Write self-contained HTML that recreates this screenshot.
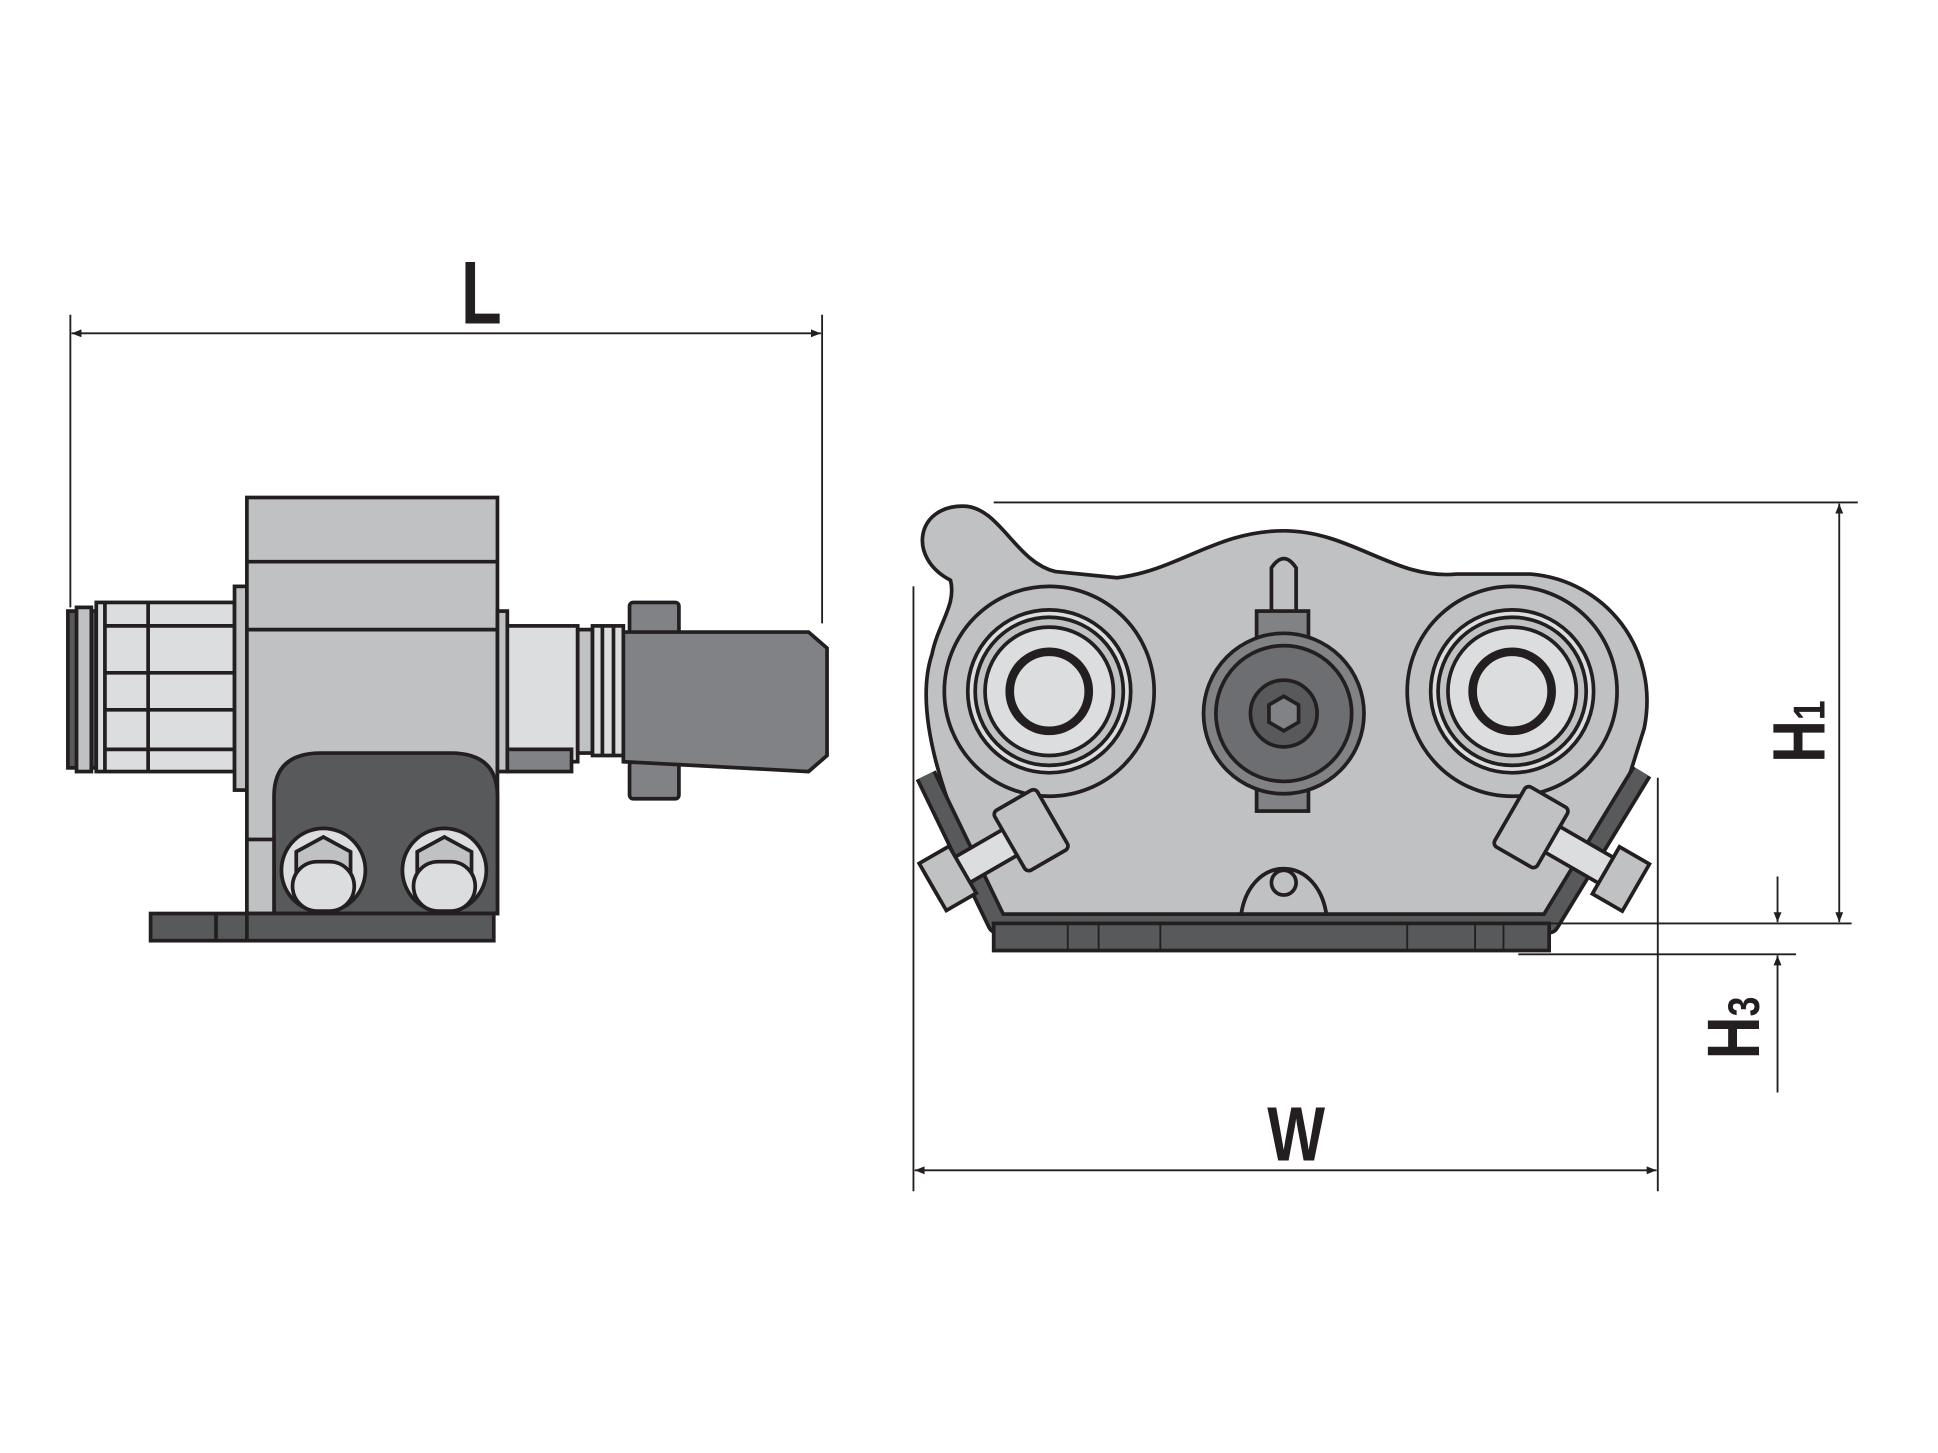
<!DOCTYPE html>
<html><head><meta charset="utf-8"><style>
html,body{margin:0;padding:0;background:#fff;}
svg{display:block}
text{font-family:"Liberation Sans",sans-serif;font-weight:bold;fill:#231f20}
</style></head><body>
<svg width="1938" height="1453" viewBox="0 0 1570 1177" preserveAspectRatio="none" xmlns="http://www.w3.org/2000/svg">
<defs>
<marker id="a" viewBox="0 0 10 10" refX="10" refY="5" markerWidth="14" markerHeight="8" orient="auto-start-reverse" markerUnits="userSpaceOnUse"><path d="M0,1 L10,5 L0,9 z" fill="#231f20"/></marker>
</defs>
<g stroke="#231f20" fill="none" stroke-width="1.5">
<line x1="57" y1="255" x2="57" y2="492"/>
<line x1="666" y1="255" x2="666" y2="505"/>
<line x1="58" y1="270" x2="665" y2="270" marker-start="url(#a)" marker-end="url(#a)"/>
</g>
<text x="390" y="262" font-size="72" text-anchor="middle" transform="scale(0.75,1) translate(130,0)">L</text>

<g stroke="#231f20" stroke-width="3">
<rect x="55" y="495" width="23" height="127" fill="#58595b"/>
<rect x="62" y="492" width="12" height="133" fill="#c0c1c3"/>
<rect x="78" y="488" width="112" height="137" fill="#dcddde"/>
<line x1="85" y1="488" x2="85" y2="625"/><line x1="120" y1="488" x2="120" y2="625"/>
<line x1="85" y1="507" x2="190" y2="507"/><line x1="85" y1="545" x2="190" y2="545"/>
<line x1="85" y1="575" x2="190" y2="575"/><line x1="85" y1="607" x2="190" y2="607"/>
<rect x="190" y="475" width="10" height="165" fill="#c0c1c3"/>
<rect x="200" y="403" width="203" height="337" fill="#c0c1c3"/>
<line x1="200" y1="455" x2="403" y2="455"/>
<line x1="200" y1="510" x2="403" y2="510"/>
<rect x="403" y="495" width="8" height="130" fill="#c0c1c3"/>
<rect x="411" y="507" width="57" height="110" fill="#dcddde"/>
<rect x="411" y="607" width="52" height="18" fill="#808285"/>
<rect x="468" y="510" width="12" height="100" fill="#c0c1c3"/>
<rect x="480" y="507" width="25" height="105" fill="#dcddde"/>
<line x1="488" y1="507" x2="488" y2="612"/><line x1="497" y1="507" x2="497" y2="612"/>
<rect x="510" y="488" width="40" height="26" rx="3" fill="#808285"/>
<rect x="510" y="617" width="40" height="30" rx="3" fill="#808285"/>
<path d="M505,512 L655,512 L670,525 L670,612 L655,625 L505,617 Z" fill="#808285"/>
<path d="M222,740 L222,645 Q222,610 260,610 L365,610 Q403,610 403,645 L403,740 Z" fill="#58595b"/>
<rect x="200" y="680" width="22" height="60" fill="#c0c1c3"/>
<rect x="122" y="740" width="278" height="22" fill="#58595b"/>
<line x1="175" y1="740" x2="175" y2="762"/><line x1="200" y1="740" x2="200" y2="762"/>
<circle cx="262" cy="705" r="34" fill="#dcddde"/>
<polygon points="240,690 262,678 284,690 284,715 262,728 240,715" fill="#c0c1c3"/>
<rect x="237" y="698" width="50" height="40" rx="20" fill="#dcddde"/>
<circle cx="360" cy="705" r="34" fill="#dcddde"/>
<polygon points="338,690 360,678 382,690 382,715 360,728 338,715" fill="#c0c1c3"/>
<rect x="335" y="698" width="50" height="40" rx="20" fill="#dcddde"/>
</g>

<g stroke="#231f20" stroke-width="3">
<path d="M770,470 C735,452 742,410 780,410 C810,410 822,455 855,463 L905,468 C955,462 985,430 1040,430 C1095,430 1130,470 1180,465 L1240,465 C1300,470 1345,525 1332,590 L1310,660 L1260,745 L1075,745 C1070,690 1010,690 1005,745 L800,745 L765,640 C752,600 745,560 755,530 C760,505 775,490 770,470 Z" fill="#c0c1c3"/>
<path d="M1005,745 C1010,690 1070,690 1075,745" fill="#c0c1c3"/>
<circle cx="1040" cy="715" r="10" fill="#c0c1c3"/>
<g fill="#c0c1c3">
<circle cx="850" cy="560" r="85"/><circle cx="850" cy="560" r="66" fill="#dcddde"/><circle cx="850" cy="560" r="60"/><circle cx="850" cy="560" r="52" fill="#dcddde"/><circle cx="850" cy="560" r="32" fill="#dcddde" stroke-width="7"/>
<circle cx="1225" cy="560" r="85"/><circle cx="1225" cy="560" r="66" fill="#dcddde"/><circle cx="1225" cy="560" r="60"/><circle cx="1225" cy="560" r="52" fill="#dcddde"/><circle cx="1225" cy="560" r="32" fill="#dcddde" stroke-width="7"/>
</g>
<path d="M1030,500 L1030,460 Q1040,445 1050,460 L1050,500 Z" fill="#c0c1c3"/>
<rect x="1018" y="495" width="42" height="25" fill="#808285"/>
<rect x="1018" y="630" width="42" height="27" fill="#808285"/>
<circle cx="1040" cy="578" r="65" fill="#808285"/>
<circle cx="1040" cy="578" r="55" fill="#6d6e71"/>
<circle cx="1040" cy="578" r="27" fill="#58595b"/>
<polygon points="1028,571 1040,564 1052,571 1052,585 1040,592 1028,585" fill="#808285"/>
<path d="M750,628 L808,748 L1255,748 L1330,625" fill="none" stroke="#231f20" stroke-width="18" stroke-linejoin="round"/>
<path d="M750,628 L808,748 L1255,748 L1330,625" fill="none" stroke="#58595b" stroke-width="12" stroke-linejoin="round"/>
<rect x="805" y="748" width="450" height="22" fill="#58595b"/>
<g stroke-width="1.5"><line x1="865" y1="748" x2="865" y2="770"/><line x1="890" y1="748" x2="890" y2="770"/><line x1="940" y1="748" x2="940" y2="770"/><line x1="1140" y1="748" x2="1140" y2="770"/><line x1="1195" y1="748" x2="1195" y2="770"/><line x1="1218" y1="748" x2="1218" y2="770"/></g>
<g fill="#dcddde">
<g transform="rotate(-30 805 690)"><rect x="748" y="678" width="100" height="24"/><rect x="820" y="662" width="40" height="56" rx="4" fill="#c0c1c3"/><rect x="748" y="668" width="28" height="44" fill="#c0c1c3"/></g>
<g transform="rotate(30 1275 690)"><rect x="1225" y="678" width="100" height="24"/><rect x="1215" y="662" width="40" height="56" rx="4" fill="#c0c1c3"/><rect x="1305" y="668" width="28" height="44" fill="#c0c1c3"/></g>
</g>
</g>
<g stroke="#231f20" fill="none" stroke-width="1.5">
<line x1="805" y1="407" x2="1505" y2="407"/>
<line x1="1255" y1="748" x2="1500" y2="748"/>
<line x1="1230" y1="773" x2="1455" y2="773"/>
<line x1="1490" y1="408" x2="1490" y2="747" marker-start="url(#a)" marker-end="url(#a)"/>
<line x1="1440" y1="710" x2="1440" y2="747" marker-end="url(#a)"/>
<line x1="1440" y1="885" x2="1440" y2="774" marker-end="url(#a)"/>
<line x1="740" y1="475" x2="740" y2="965"/>
<line x1="1343" y1="630" x2="1343" y2="965"/>
<line x1="741" y1="948" x2="1342" y2="948" marker-start="url(#a)" marker-end="url(#a)"/>
</g>
<text x="0" y="0" font-size="62" transform="translate(1050,940) scale(0.8,1)" text-anchor="middle">W</text>
<text x="0" y="0" font-size="60" transform="translate(1478,618) rotate(-90) scale(0.8,1)">H<tspan font-size="36">1</tspan></text>
<text x="0" y="0" font-size="60" transform="translate(1425,858) rotate(-90) scale(0.8,1)">H<tspan font-size="36">3</tspan></text>
</svg>
</body></html>
